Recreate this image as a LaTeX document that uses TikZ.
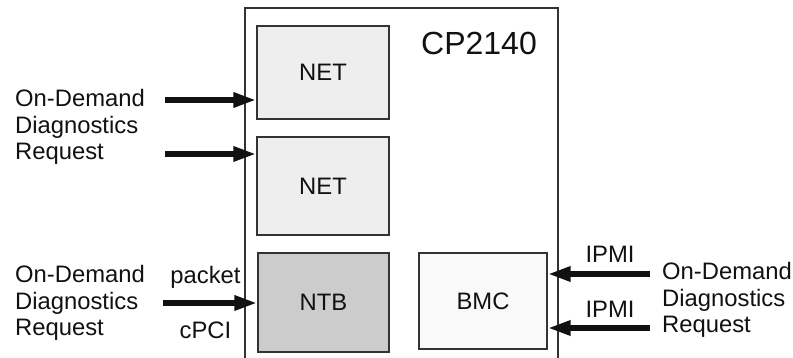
\documentclass[tikz,border=0pt]{standalone}
\usepackage{fontspec}
\setmainfont{Liberation Sans}
\usepackage{xcolor}
\usepackage{tikz}
\usetikzlibrary{arrows.meta,positioning,calc}
\definecolor{ink}{HTML}{111111}
\definecolor{frame}{HTML}{333333}
\definecolor{netbg}{HTML}{EEEEEE}
\definecolor{ntbbg}{HTML}{CCCCCC}
\definecolor{bmcbg}{HTML}{F9F9F9}
\tikzset{
  unit/.style={draw=frame,line width=1.2pt,inner sep=0pt,
               font=\fontsize{23.8}{26.6}\selectfont,text=ink},
  reqtext/.style={inner sep=0pt,anchor=west,align=left,
                  font=\fontsize{23.8}{26.6}\selectfont,text=ink},
  lbl/.style={inner sep=0pt,font=\fontsize{23.8}{26.6}\selectfont,text=ink},
  arrowfat/.style={-{Triangle[length=23pt,width=14pt]},line width=6pt,ink},
}

\begin{document}
\begin{tikzpicture}[x=1pt,y=-1pt]
  \useasboundingbox(0,0)rectangle(793,358);
  \draw[frame,line width=1.3pt](245,362)--(245,8)--(558,8)--(558,362);
  \node[lbl,font=\fontsize{32}{36}\selectfont](board)at(479,43){CP2140};
  \node[unit,fill=netbg,minimum width=132pt,minimum height=93pt]
    (net1)at(323,72.5){NET};
  \node[unit,fill=netbg,minimum width=132pt,minimum height=98pt]
    (net2)at(323,186){NET};
  \node[unit,fill=ntbbg,minimum width=131pt,minimum height=99pt]
    (ntb)at(323.5,302.5){NTB};
  \node[unit,fill=bmcbg,minimum width=128pt,minimum height=96pt]
    (bmc)at(483,301){BMC};
  \node[reqtext](reqa)at(15,127){On-Demand\\Diagnostics\\Request};
  \node[reqtext](reqb)at(15,303){On-Demand\\Diagnostics\\Request};
  \node[reqtext](reqc)at(662,300){On-Demand\\Diagnostics\\Request};
  \coordinate(ina)at(165,100);
  \coordinate(inb)at(165,154);
  \coordinate(inc)at(163,303);
  \coordinate(ind)at(650,274);
  \coordinate(ine)at(650,328);
  \draw[arrowfat](ina)--(ina-|net1.west);
  \draw[arrowfat](inb)--(inb-|net2.west);
  \draw[arrowfat](inc)--(inc-|ntb.west)
    node[lbl,pos=0.45,above=12pt](pkt){packet}
    node[lbl,pos=0.45,below=16pt](bus){cPCI};
  \draw[arrowfat](ind)--(ind-|bmc.east)
    node[lbl,pos=0.39,above=8pt](ipmia){IPMI};
  \draw[arrowfat](ine)--(ine-|bmc.east)
    node[lbl,pos=0.39,above=8pt](ipmib){IPMI};
\end{tikzpicture}
\end{document}
